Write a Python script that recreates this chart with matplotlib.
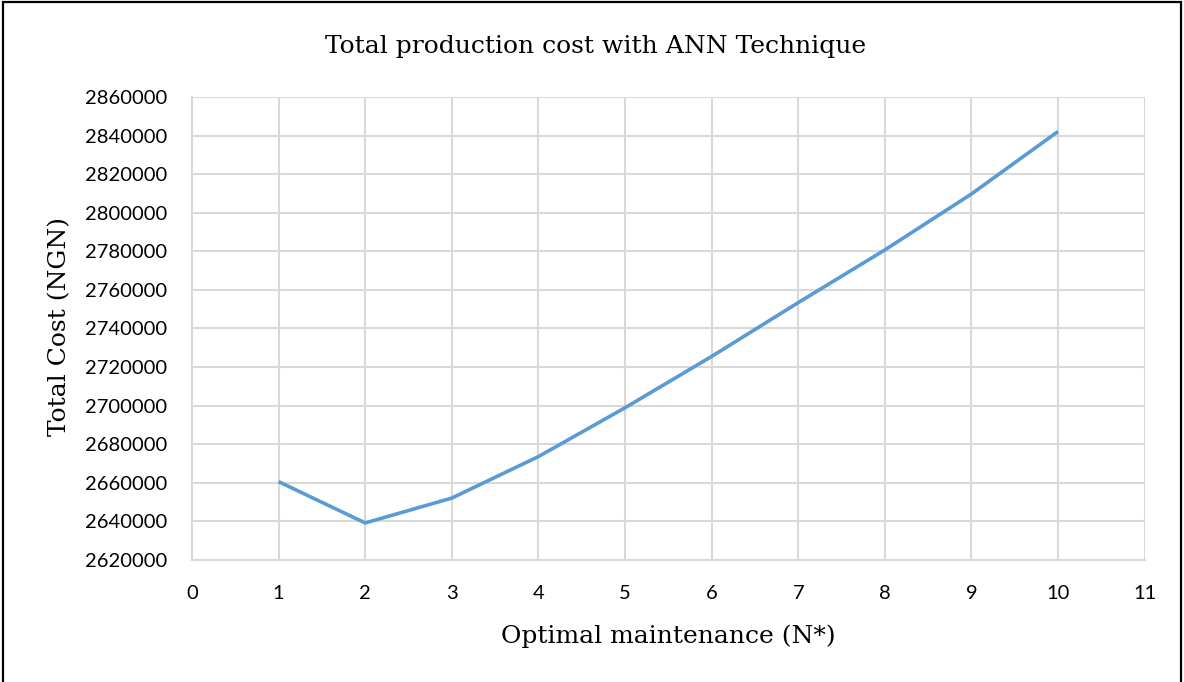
import matplotlib
matplotlib.use("Agg")
import matplotlib.pyplot as plt
from matplotlib.patches import Rectangle

# Number of maintenance actions and the resulting total production cost
n_maintenance = [1, 2, 3, 4, 5, 6, 7, 8, 9, 10]
total_cost = [2660600, 2639200, 2652100, 2673600, 2698900,
              2725500, 2753400, 2780700, 2809700, 2842100]

x_ticks = list(range(0, 12))
y_ticks = list(range(2620000, 2860001, 20000))

line_color = "#5B9BD5"
grid_color = "#D9D9D9"

fig = plt.figure(figsize=(11.84, 6.82), dpi=100)
ax = fig.add_axes([0.1622, 0.1789, 0.9667 - 0.1622, 0.8578 - 0.1789])

ax.plot(n_maintenance, total_cost, color=line_color, linewidth=2.6,
        solid_joinstyle="round", solid_capstyle="butt", zorder=3)

ax.set_xlim(0, 11)
ax.set_ylim(2620000, 2860000)
ax.set_xticks(x_ticks)
ax.set_yticks(y_ticks)
ax.set_xticklabels([str(v) for v in x_ticks])
ax.set_yticklabels([str(v) for v in y_ticks])

ax.grid(True, color=grid_color, linewidth=1.5)
ax.set_axisbelow(True)
for side in ("top", "right"):
    ax.spines[side].set_visible(False)
for side in ("left", "bottom"):
    ax.spines[side].set_color(grid_color)
    ax.spines[side].set_linewidth(1.5)

ax.tick_params(axis="both", length=0, labelsize=14.5, colors="black")
ax.tick_params(axis="x", pad=18)
ax.tick_params(axis="y", pad=18)
for lbl in ax.get_xticklabels() + ax.get_yticklabels():
    lbl.set_fontfamily("Lato")

serif = "DejaVu Serif"
fig.text(596 / 1184, 1 - 47 / 682, "Total production cost with ANN Technique",
         ha="center", va="center", fontsize=18, family=serif)
fig.text(668 / 1184, 1 - 636 / 682, "Optimal maintenance (N*)",
         ha="center", va="center", fontsize=18, family=serif)
fig.text(60 / 1184, 1 - 326 / 682, "Total Cost (NGN)", rotation=90,
         ha="center", va="center", fontsize=18, family=serif)

# Frame around the whole chart
fig.patches.append(Rectangle((3 / 1184, -0.01), 1 - 6 / 1184, 1.01 - 2 / 682,
                             transform=fig.transFigure, fill=False,
                             edgecolor="black", linewidth=1.6))

fig.savefig("out.png", dpi=100)
